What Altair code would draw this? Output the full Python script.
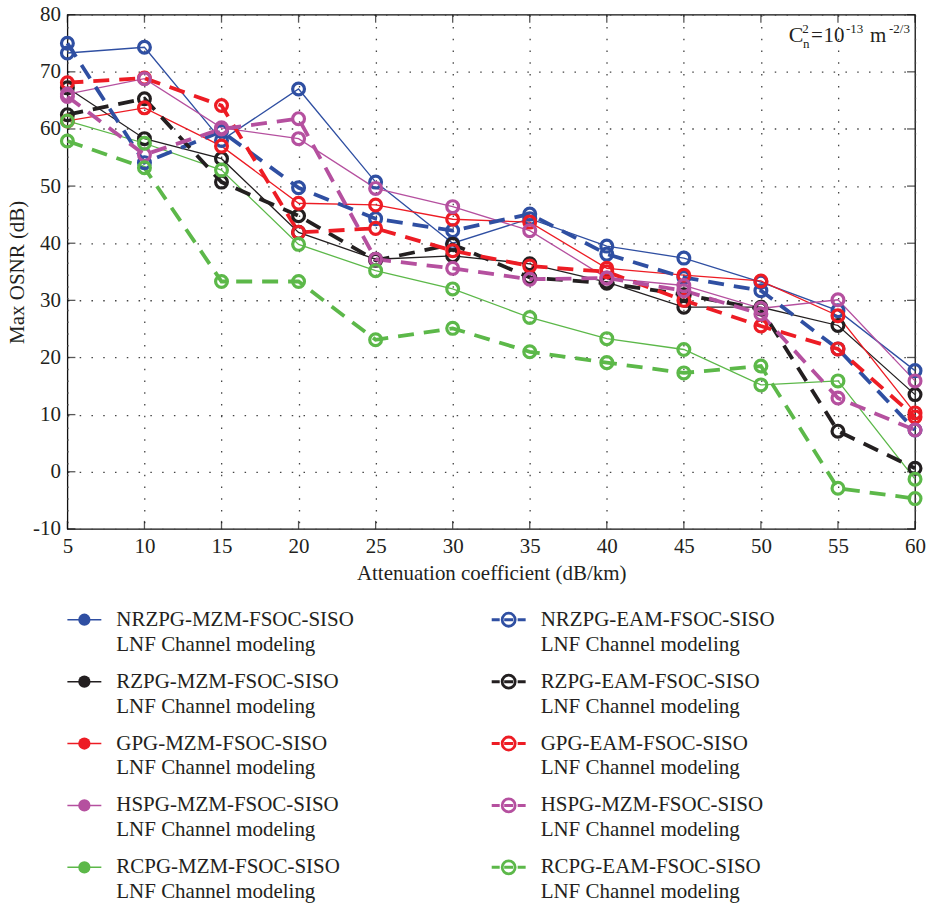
import altair as alt
import pandas as pd

# ---------------- data ----------------
x_vals = [5, 10, 15, 20, 25, 30, 35, 40, 45, 50, 55, 60]

nrzpg_mzm = [73.3, 74.3, 58.0, 67.0, 50.7, 40.0, 44.3, 39.5, 37.4, 33.2, 28.2, 17.7]
rzpg_mzm = [67.2, 58.3, 54.8, 41.9, 37.2, 37.8, 36.4, 33.2, 28.8, 28.8, 25.6, 13.5]
gpg_mzm = [61.4, 63.7, 57.0, 47.0, 46.7, 44.2, 43.7, 35.6, 34.4, 33.4, 27.3, 10.3]
hspg_mzm = [66.1, 68.8, 60.2, 58.3, 49.6, 46.4, 42.2, 33.9, 32.6, 28.6, 30.1, 15.9]
rcpg_mzm = [61.4, 57.5, 52.8, 39.8, 35.2, 32.0, 27.0, 23.3, 21.4, 15.2, 15.9, -1.3]

nrzpg_eam = [75.0, 54.1, 59.6, 49.7, 44.3, 42.2, 45.1, 38.1, 34.0, 31.7, 21.5, 7.3]
rzpg_eam = [62.5, 65.3, 50.7, 44.8, 37.0, 39.8, 34.0, 33.0, 31.0, 28.5, 7.1, 0.6]
gpg_eam = [68.1, 68.9, 64.1, 41.9, 42.6, 38.7, 36.0, 35.0, 30.0, 25.5, 21.5, 9.6]
hspg_eam = [65.7, 55.5, 60.0, 61.8, 37.2, 35.6, 33.7, 33.9, 31.7, 27.6, 12.9, 7.3]
rcpg_eam = [57.9, 53.2, 33.3, 33.3, 23.1, 25.1, 21.0, 19.1, 17.3, 18.5, -2.9, -4.7]

families = ["NRZPG", "RZPG", "GPG", "HSPG", "RCPG"]
family_colors = ["#2f4fa2", "#231f20", "#ed1c24", "#b5509f", "#5cb849"]

mzm_series = [nrzpg_mzm, rzpg_mzm, gpg_mzm, hspg_mzm, rcpg_mzm]
eam_series = [nrzpg_eam, rzpg_eam, gpg_eam, hspg_eam, rcpg_eam]

legend_mzm_labels = ["NRZPG-MZM-FSOC-SISO", "RZPG-MZM-FSOC-SISO", "GPG-MZM-FSOC-SISO",
                     "HSPG-MZM-FSOC-SISO", "RCPG-MZM-FSOC-SISO"]
legend_eam_labels = ["NRZPG-EAM-FSOC-SISO", "RZPG-EAM-FSOC-SISO", "GPG-EAM-FSOC-SISO",
                     "HSPG-MZM-FSOC-SISO", "RCPG-EAM-FSOC-SISO"]
legend_subline = "LNF Channel modeling"

x_ticks = [5, 10, 15, 20, 25, 30, 35, 40, 45, 50, 55, 60]
y_ticks = [-10, 0, 10, 20, 30, 40, 50, 60, 70, 80]

# ---------------- layout / style ----------------
FONT = "Liberation Serif"
TEXT_COLOR = "#231f20"
PLOT_W, PLOT_H = 849, 515
LEG_H = 305
LEG_TOP = 31
LEG_ROW_H = 62
LEG_LINE_GAP = 25
LEG_COL_W = 425

rows = []
for fam, mz, ea in zip(families, mzm_series, eam_series):
    for xv, yv in zip(x_vals, mz):
        rows.append(dict(family=fam, mod="MZM", key=fam + "-MZM", x=xv, y=yv))
    for xv, yv in zip(x_vals, ea):
        rows.append(dict(family=fam, mod="EAM", key=fam + "-EAM", x=xv, y=yv))
df = pd.DataFrame(rows)

x_scale = alt.Scale(domain=[x_ticks[0], x_ticks[-1]], nice=False, zero=False)
y_scale = alt.Scale(domain=[y_ticks[0], y_ticks[-1]], nice=False, zero=False)
color_scale = alt.Scale(domain=families, range=family_colors)

x_axis = alt.Axis(values=x_ticks, title="Attenuation coefficient (dB/km)", titlePadding=6,
                  labelExpr="datum.value + ''")
y_axis = alt.Axis(values=y_ticks, title="Max OSNR (dB)", titlePadding=5,
                  labelExpr="datum.value + ''")

X = alt.X("x:Q", scale=x_scale, axis=x_axis)
Y = alt.Y("y:Q", scale=y_scale, axis=y_axis)
COLOR = alt.Color("family:N", scale=color_scale, legend=None)

base = alt.Chart(df).encode(x=X, y=Y, color=COLOR, detail="key:N")

solid_lines = base.transform_filter(alt.datum.mod == "MZM").mark_line(strokeWidth=1.3)
dashed_lines = base.transform_filter(alt.datum.mod == "EAM").mark_line(
    strokeWidth=3.8, strokeDash=[16, 10])
markers = base.mark_point(shape="circle", filled=False, size=140, strokeWidth=3.2, opacity=1)

# inward tick marks on all four sides of the frame
tick_sets = [
    (pd.DataFrame({"x": x_ticks, "y": y_ticks[0]}), "vertical", 0, -4),
    (pd.DataFrame({"x": x_ticks, "y": y_ticks[-1]}), "vertical", 0, 4),
    (pd.DataFrame({"x": x_ticks[0], "y": y_ticks}), "horizontal", 4, 0),
    (pd.DataFrame({"x": x_ticks[-1], "y": y_ticks}), "horizontal", -4, 0),
]
tick_layers = [
    alt.Chart(t).mark_tick(orient=o, size=8, thickness=1.3, color="#111",
                           xOffset=xo, yOffset=yo).encode(x=X, y=Y)
    for t, o, xo, yo in tick_sets
]

# C_n^2 annotation, built from super/subscript pieces
anno_pos = pd.DataFrame({"x": [51.8], "y": [75.3]})
anno_pieces = [
    ("C", 22, 0, 0),
    ("2", 13, 13.5, -9),
    ("n", 13, 14.5, 6),
    ("=", 21, 22.5, 0),
    ("10", 21, 35, 0),
    ("-13", 13, 57.5, -9),
    ("m", 21, 81.5, 0),
    ("-2/3", 13, 100.5, -9),
]
anno_layers = [
    alt.Chart(anno_pos).mark_text(text=t, fontSize=fs, dx=dx, dy=dy, align="left",
                                  baseline="alphabetic", font=FONT, color=TEXT_COLOR)
    .encode(x=X, y=Y)
    for t, fs, dx, dy in anno_pieces
]

main = alt.layer(
    *tick_layers, solid_lines, dashed_lines, markers, *anno_layers
).properties(
    width=PLOT_W, height=PLOT_H,
    view=alt.ViewBackground(stroke="#111", strokeWidth=1.3),
)

# ---------------- legend panel ----------------
leg_rows = []
for col, (mod, labels) in enumerate([("MZM", legend_mzm_labels), ("EAM", legend_eam_labels)]):
    for r, (fam, lab) in enumerate(zip(families, labels)):
        x0 = col * LEG_COL_W
        y1 = LEG_TOP + r * LEG_ROW_H
        leg_rows.append(dict(family=fam, mod=mod, label=lab, sub=legend_subline,
                             x0=x0, x1=x0 + 34, cx=x0 + 17, tx=x0 + 49,
                             y1=y1, y2=y1 + LEG_LINE_GAP))
leg_df = pd.DataFrame(leg_rows)

LX = alt.Scale(domain=[0, PLOT_W], nice=False, zero=False)
LY = alt.Scale(domain=[0, LEG_H], nice=False, zero=False, reverse=True)

leg_base = alt.Chart(leg_df).encode(color=COLOR)
leg_solid = leg_base.transform_filter(alt.datum.mod == "MZM").mark_rule(strokeWidth=1.5).encode(
    x=alt.X("x0:Q", scale=LX, axis=None), x2="x1:Q", y=alt.Y("y1:Q", scale=LY, axis=None))
leg_dash = leg_base.transform_filter(alt.datum.mod == "EAM").mark_rule(
    strokeWidth=3, strokeDash=[8, 4.5, 9, 4.5, 8, 40]).encode(
    x=alt.X("x0:Q", scale=LX, axis=None), x2="x1:Q", y=alt.Y("y1:Q", scale=LY, axis=None))
leg_dot = leg_base.transform_filter(alt.datum.mod == "MZM").mark_point(
    shape="circle", filled=True, size=150, opacity=1).encode(
    x=alt.X("cx:Q", scale=LX, axis=None), y=alt.Y("y1:Q", scale=LY, axis=None))
leg_ring = leg_base.transform_filter(alt.datum.mod == "EAM").mark_point(
    shape="circle", filled=False, size=170, strokeWidth=2.8, opacity=1).encode(
    x=alt.X("cx:Q", scale=LX, axis=None), y=alt.Y("y1:Q", scale=LY, axis=None))
leg_text1 = alt.Chart(leg_df).mark_text(align="left", baseline="middle", font=FONT,
                                        fontSize=21, color=TEXT_COLOR).encode(
    x=alt.X("tx:Q", scale=LX, axis=None), y=alt.Y("y1:Q", scale=LY, axis=None), text="label:N")
leg_text2 = alt.Chart(leg_df).mark_text(align="left", baseline="middle", font=FONT,
                                        fontSize=21, color=TEXT_COLOR).encode(
    x=alt.X("tx:Q", scale=LX, axis=None), y=alt.Y("y2:Q", scale=LY, axis=None), text="sub:N")

legend = alt.layer(leg_solid, leg_dash, leg_dot, leg_ring, leg_text1, leg_text2).properties(
    width=PLOT_W, height=LEG_H)

chart = alt.vconcat(main, legend, spacing=60, bounds="flush").properties(
    padding={"left": 5.5, "top": 2, "right": 0, "bottom": 0}
).configure_view(stroke=None).configure_axis(
    labelFont=FONT, labelFontSize=21, labelColor=TEXT_COLOR, labelPadding=7,
    labelFlush=False, labelOverlap=False,
    titleFont=FONT, titleFontSize=21, titleFontWeight="normal", titleColor=TEXT_COLOR,
    grid=True, gridDash=[1.5, 10.3], gridColor="#444", gridWidth=1.3, gridOpacity=1,
    domain=False, ticks=False,
)

chart.save("out.html", embed_options={"renderer": "svg", "actions": False})
